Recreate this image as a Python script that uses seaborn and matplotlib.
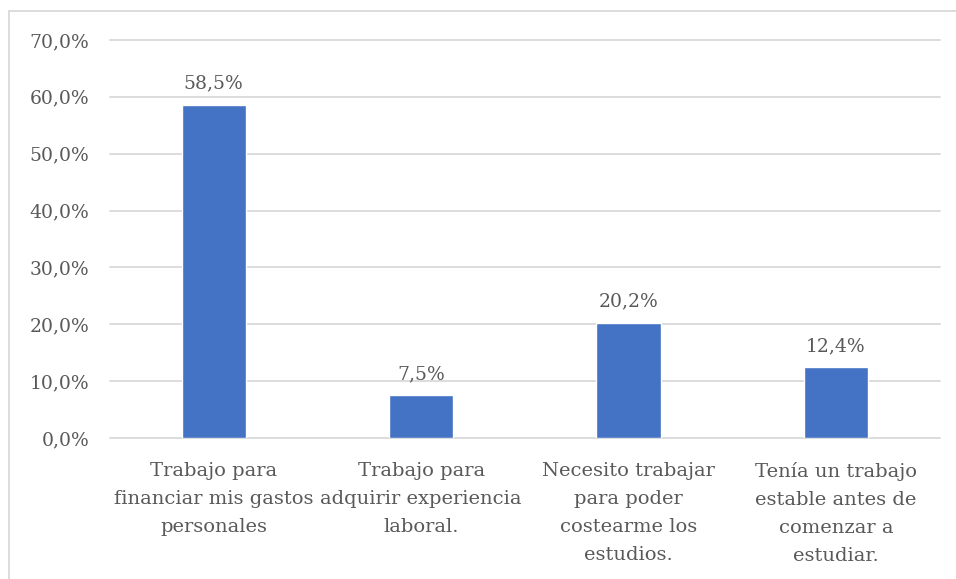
import matplotlib
matplotlib.use("Agg")
import matplotlib.pyplot as plt
import seaborn as sns
import pandas as pd
from matplotlib.lines import Line2D

categories = [
    "Trabajo para\nfinanciar mis gastos\npersonales",
    "Trabajo para\nadquirir experiencia\nlaboral.",
    "Necesito trabajar\npara poder\ncostearme los\nestudios.",
    "Tenía un trabajo\nestable antes de\ncomenzar a\nestudiar.",
]
values = [58.5, 7.5, 20.2, 12.4]
y_ticks = [0, 10, 20, 30, 40, 50, 60, 70]

sns.set_style("white")
plt.rcParams["font.family"] = ["DejaVu Serif"]

text_color = "#595959"
bar_color = "#4472C4"
grid_color = "#D9D9D9"

df = pd.DataFrame({"cat": categories, "val": values})

fig = plt.figure(figsize=(9.56, 5.79), dpi=100)
ax = fig.add_axes([0.115, 0.2435, 0.868, 0.6875])

sns.barplot(data=df, x="cat", y="val", color=bar_color, width=0.31,
            saturation=1, ax=ax, zorder=3)

ax.set_ylim(0, 70)
ax.set_yticks(y_ticks)
ax.set_yticklabels([f"{t:.1f}%".replace(".", ",") for t in y_ticks],
                   fontsize=13.5, color=text_color)
ax.tick_params(axis="y", length=0, pad=15)
ax.tick_params(axis="x", length=0, pad=17, labelsize=14, labelcolor=text_color)
for lbl in ax.get_xticklabels():
    lbl.set_linespacing(1.72)
ax.yaxis.grid(True, color=grid_color, linewidth=1.3, zorder=0)
for gl in ax.get_ygridlines():
    gl.set_clip_on(False)
ax.set_axisbelow(True)
for s in ax.spines.values():
    s.set_visible(False)
ax.set_xlabel("")
ax.set_ylabel("")

for i, v in enumerate(values):
    ax.annotate(f"{v:.1f}%".replace(".", ","), (i, v), xytext=(0, 9),
                textcoords="offset points", ha="center", va="bottom",
                fontsize=13.5, color=text_color)

# light frame around the chart area
fig.add_artist(Line2D([8.5 / 956, 8.5 / 956], [0, 1 - 10.5 / 579],
                      transform=fig.transFigure, color=grid_color, linewidth=1.3))
fig.add_artist(Line2D([8.5 / 956, 1.0], [1 - 10.5 / 579, 1 - 10.5 / 579],
                      transform=fig.transFigure, color=grid_color, linewidth=1.3))

fig.savefig("out.png", dpi=100)
